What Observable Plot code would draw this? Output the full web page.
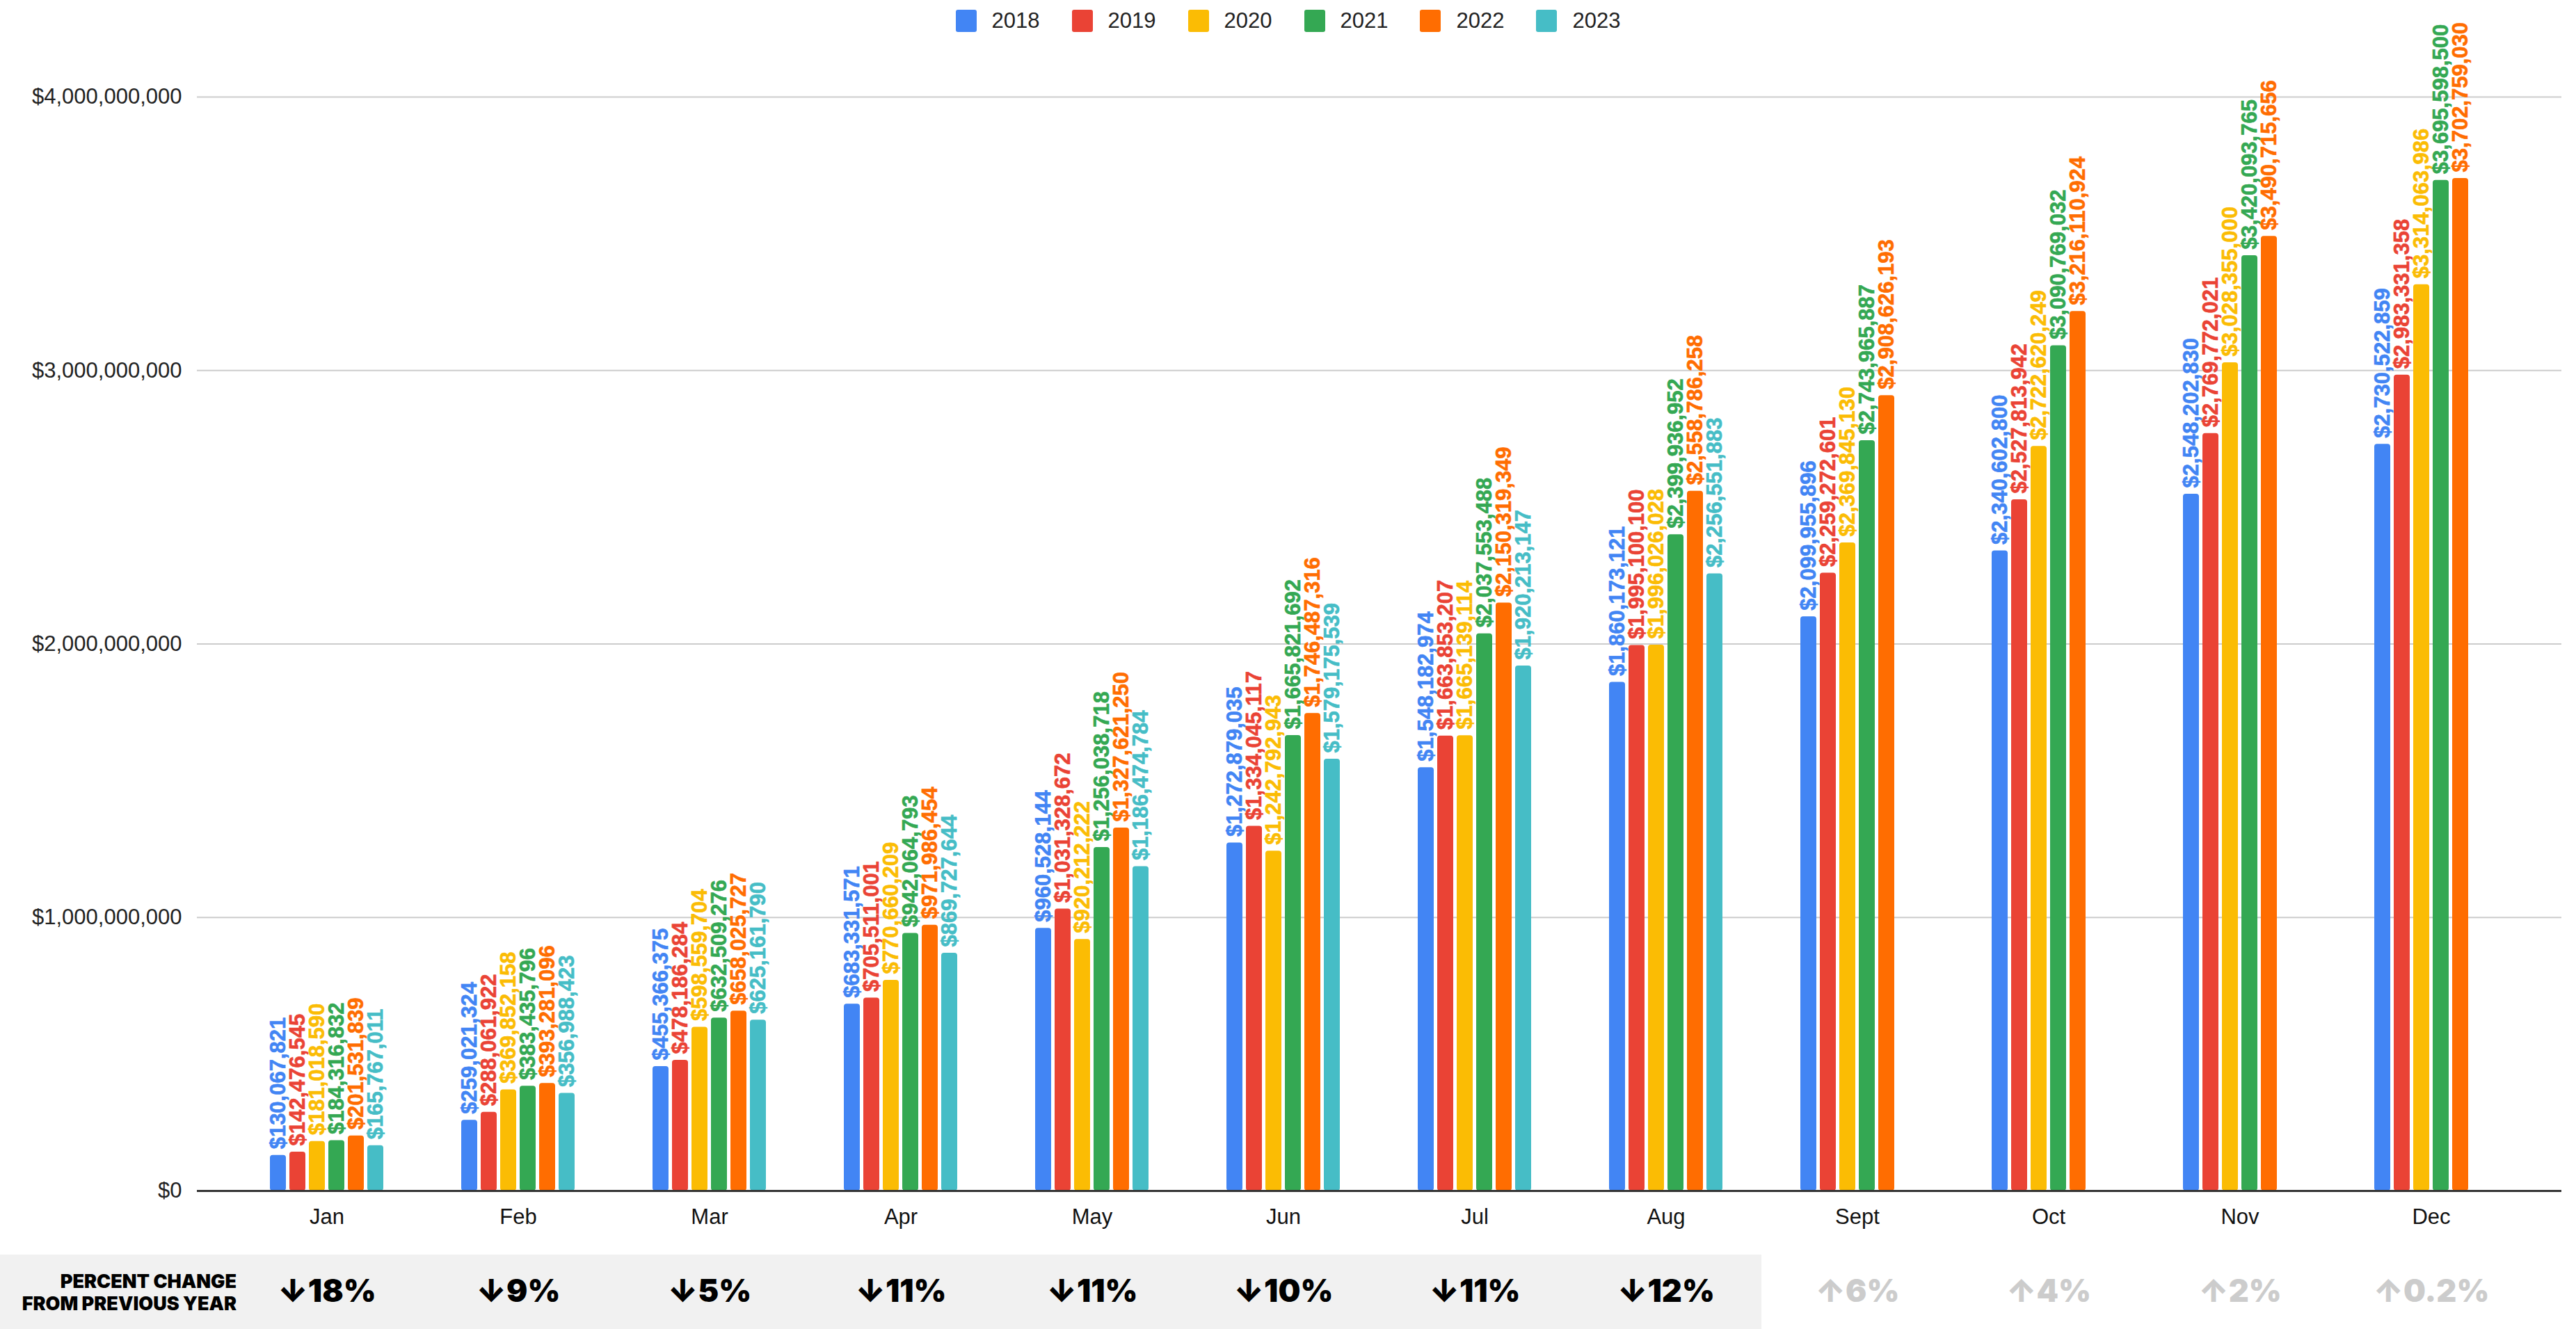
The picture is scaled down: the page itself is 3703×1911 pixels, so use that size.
<!DOCTYPE html>
<html>
<head>
<meta charset="utf-8">
<script src="https://cdn.jsdelivr.net/npm/d3@7"></script>
<script src="https://cdn.jsdelivr.net/npm/@observablehq/plot@0.6"></script>
<style>
  html, body { margin: 0; padding: 0; background: #fff; }
  #page { position: relative; width: 3703px; height: 1911px; overflow: hidden; background: #fff;
          font-family: "Liberation Sans", Arial, sans-serif; }
  #page svg { position: absolute; left: 0; }
  #legend { position: absolute; top: 14px; left: 0; width: 3703px; display: flex; justify-content: center;
            align-items: center; height: 32px; }
  .li { display: flex; align-items: center; margin: 0 23px; }
  .sw { width: 30px; height: 32px; border-radius: 3px; margin-right: 22px; }
  .lt { font-size: 31px; color: #222; }
  #strip { position: absolute; top: 1804px; left: 0; height: 107px; background: #f1f1f1; }
  #rowlabel { position: absolute; top: 1827px; left: 0; width: 340px; text-align: right;
              font-family: Inter, "Noto Sans", sans-serif; font-weight: 900; font-size: 27px; line-height: 32px; color: #000; }
</style>
</head>
<body>
<div id="page">
  <div id="strip"></div>
  <div id="legend"></div>
  <div id="rowlabel">PERCENT CHANGE<br>FROM PREVIOUS YEAR</div>
</div>
<script>
const months = ["Jan", "Feb", "Mar", "Apr", "May", "Jun", "Jul", "Aug", "Sept", "Oct", "Nov", "Dec"];
const years = ["2018", "2019", "2020", "2021", "2022", "2023"];
const colors = ["#4285F4", "#EA4335", "#FBBC04", "#34A853", "#FF6D01", "#46BDC6"];

const v2018 = [130067821, 259021324, 455366375, 683331571, 960528144, 1272879035, 1548182974, 1860173121, 2099955896, 2340602800, 2548202830, 2730522859];
const v2019 = [142476545, 288061922, 478186284, 705511001, 1031328672, 1334045117, 1663853207, 1995100100, 2259272601, 2527813942, 2769772021, 2983331358];
const v2020 = [181018590, 369852158, 598559704, 770660209, 920212222, 1242792943, 1665139114, 1996026028, 2369845130, 2722620249, 3028355000, 3314063986];
const v2021 = [184316832, 383435796, 632509276, 942064793, 1256038718, 1665821692, 2037553488, 2399936952, 2743965887, 3090769032, 3420093765, 3695598500];
const v2022 = [201531839, 393281096, 658025727, 971986454, 1327621250, 1746487316, 2150319349, 2558786258, 2908626193, 3216110924, 3490715656, 3702759030];
const v2023 = [165767011, 356988423, 625161790, 869727644, 1186474784, 1579175539, 1920213147, 2256551883];

const pctChange = [-18, -9, -5, -11, -11, -10, -11, -12, 6, 4, 2, 0.2];
const yTicks = [0, 1000000000, 2000000000, 3000000000, 4000000000];

const W = 3703;
const FONT = "'Liberation Sans', Arial, sans-serif";
const series = [v2018, v2019, v2020, v2021, v2022, v2023];
const rows = [];
series.forEach((vals, i) => vals.forEach((v, j) => rows.push({month: months[j], year: years[i], value: v})));
const money = v => "$" + d3.format(",")(v);
const page = document.getElementById("page");

// legend
const legend = document.getElementById("legend");
years.forEach((y, i) => {
  const it = document.createElement("div");
  it.className = "li";
  it.innerHTML = `<div class="sw" style="background:${colors[i]}"></div><span class="lt">${y}</span>`;
  legend.appendChild(it);
});

// background: gridlines + y axis
const bg = Plot.plot({
  width: W, height: 1800,
  marginLeft: 283, marginRight: 21, marginTop: 0, marginBottom: 88,
  style: {background: "none", fontFamily: FONT, fontSize: "31px", color: "#222", overflow: "visible"},
  y: {domain: [0, 4000000000], range: [1712, 139], ticks: yTicks, tickFormat: money,
      tickSize: 0, tickPadding: 22, label: null},
  marks: [
    Plot.ruleY(yTicks.filter(d => d > 0), {stroke: "#cccccc", strokeWidth: 2}),
    Plot.ruleY([0], {stroke: "#333333", strokeWidth: 3})
  ]
});
bg.style.top = "0px";
page.appendChild(bg);

// main: grouped bars
const main = Plot.plot({
  width: W, height: 1800,
  marginLeft: 331, marginRight: 70, marginTop: 0, marginBottom: 88,
  style: {background: "none", fontFamily: FONT, fontSize: "31px", color: "#111", overflow: "visible"},
  facet: {data: rows, x: "month"},
  fx: {domain: months, padding: 0, label: null, tickSize: 0, tickPadding: 25},
  x: {domain: years, paddingInner: 0.17, paddingOuter: 1.83, axis: null},
  y: {domain: [0, 4000000000], range: [1712, 139], axis: null},
  color: {domain: years, range: colors},
  marks: [
    Plot.barY(rows, {x: "year", y: "value", fill: "year", rx: 4}),
    Plot.text(rows, {x: "year", y: "value", text: d => money(d.value), fill: "year",
                     rotate: -90, textAnchor: "start", dy: -9, fontWeight: 700, fontSize: 31,
                     fontFamily: "Arial, 'Liberation Sans', sans-serif", stroke: "year", strokeWidth: 0.6}),
    Plot.ruleY([0], {stroke: "#333333", strokeWidth: 3})
  ]
});
main.style.top = "0px";
page.appendChild(main);

// bottom row: percent change
const pct = months.map((m, i) => ({month: m, change: pctChange[i]}));
const bottom = Plot.plot({
  width: W, height: 107,
  marginLeft: 331, marginRight: 70, marginTop: 0, marginBottom: 0,
  style: {background: "none", fontFamily: "Inter, 'Noto Sans', sans-serif", overflow: "visible"},
  x: {type: "band", domain: months, padding: 0, axis: null},
  color: {type: "identity"},
  marks: [
    Plot.text(pct, {x: "month", frameAnchor: "middle",
                    text: d => (d.change < 0 ? "↓" : "↑") + Math.abs(d.change) + "%",
                    fill: d => d.change < 0 ? "#000000" : "#cccccc",
                    fontSize: 45, fontWeight: 900})
  ]
});
bottom.style.top = "1804px";
page.appendChild(bottom);

// gray strip spans through the last month with a decline
const xs = bottom.scale("x");
let lastNeg = 0;
pct.forEach((d, i) => { if (d.change < 0) lastNeg = i; });
document.getElementById("strip").style.width = (xs.apply(months[lastNeg]) + xs.bandwidth) + "px";
</script>
</body>
</html>
